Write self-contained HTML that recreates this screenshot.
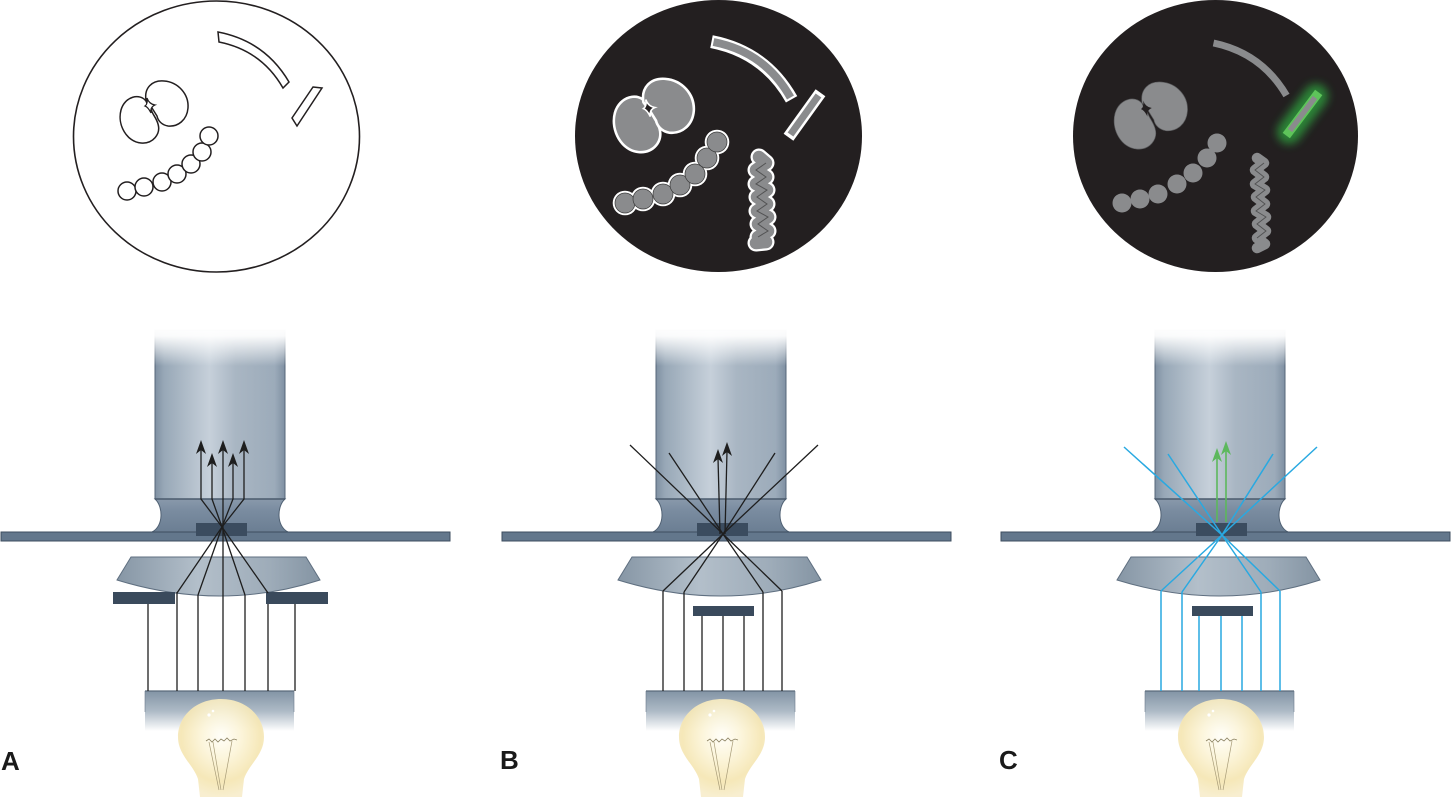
<!DOCTYPE html>
<html>
<head>
<meta charset="utf-8">
<style>
  html,body{margin:0;padding:0;background:#fff;}
  svg{display:block;}
</style>
</head>
<body>
<svg width="1451" height="797" viewBox="0 0 1451 797" xmlns="http://www.w3.org/2000/svg">
<defs>
  <linearGradient id="tube" x1="0" x2="1" y1="0" y2="0">
    <stop offset="0" stop-color="#7f90a2"/>
    <stop offset="0.07" stop-color="#98a8b7"/>
    <stop offset="0.42" stop-color="#c6d0da"/>
    <stop offset="0.62" stop-color="#a9b6c3"/>
    <stop offset="0.92" stop-color="#9cabba"/>
    <stop offset="1" stop-color="#7f90a2"/>
  </linearGradient>
  <linearGradient id="fade" x1="0" x2="0" y1="0" y2="1">
    <stop offset="0" stop-color="#fff" stop-opacity="1"/>
    <stop offset="0.25" stop-color="#fff" stop-opacity="0.95"/>
    <stop offset="1" stop-color="#fff" stop-opacity="0"/>
  </linearGradient>
  <linearGradient id="neck" x1="0" x2="0" y1="0" y2="1">
    <stop offset="0" stop-color="#8999ab"/>
    <stop offset="0.35" stop-color="#7a8ca0"/>
    <stop offset="1" stop-color="#6b7e93"/>
  </linearGradient>
  <linearGradient id="cond" x1="0" x2="1" y1="0" y2="0">
    <stop offset="0" stop-color="#8696a5"/>
    <stop offset="0.4" stop-color="#b3bfca"/>
    <stop offset="0.75" stop-color="#9eacb9"/>
    <stop offset="1" stop-color="#8494a3"/>
  </linearGradient>
  <linearGradient id="box" x1="0" x2="0" y1="0" y2="1">
    <stop offset="0" stop-color="#8394a5"/>
    <stop offset="0.5" stop-color="#adbac6"/>
    <stop offset="1" stop-color="#ffffff"/>
  </linearGradient>
  <radialGradient id="bulb" cx="0.5" cy="0.38" r="0.62">
    <stop offset="0" stop-color="#fffef8"/>
    <stop offset="0.35" stop-color="#fcf5da"/>
    <stop offset="0.75" stop-color="#f5e6b3"/>
    <stop offset="1" stop-color="#f7edcc"/>
  </radialGradient>
  <filter id="glow" x="-80%" y="-80%" width="260%" height="260%">
    <feGaussianBlur stdDeviation="4.5"/>
  </filter>

  <g id="kidneys">
    <path d="M146,101 C140,93 125,96 121,110 C117,125 127,142 141,143 C153,144 161,134 158,124 C156,117 152,114 151,109 L148,106 Z"/>
    <path d="M146,100 C144,88 152,80 164,81 C178,82 189,94 188,108 C187,120 178,127 168,126 C162,125 158,121 157,116 L152,108 Z"/>
  </g>
  <path id="notch" d="M147,98 Q149,104 155,105 Q150,107 151,113 Q148,107 145,106 Q148,104 147,98 Z"/>

  <g id="scope">
    <rect x="155" y="330" width="130" height="169" fill="url(#tube)" stroke="#56677a" stroke-width="1"/>
    <rect x="148" y="326" width="144" height="40" fill="url(#fade)"/>
    <path d="M155,499 L285,499 C277,506 276,526 288,532 L152,532 C164,526 163,506 155,499 Z" fill="url(#neck)" stroke="#4f6073" stroke-width="1"/>
    <line x1="155" y1="499" x2="285" y2="499" stroke="#4a5a6c" stroke-width="1.5"/>
    <rect x="1" y="532" width="449" height="9" fill="#63778c" stroke="#3e4e5f" stroke-width="1"/>
    <rect x="196" y="523" width="51" height="13" fill="#3b4c5f"/>
    <path d="M131,557 L306,557 L320,580 Q221,612 117,580 Z" fill="url(#cond)" stroke="#5f6f80" stroke-width="1"/>
    <rect x="145" y="691" width="149" height="40" fill="url(#box)"/>
    <line x1="145" y1="691" x2="294" y2="691" stroke="#5a6a7b" stroke-width="1.2"/>
    <line x1="145" y1="691" x2="145" y2="712" stroke="#6a7a8a" stroke-width="1" opacity="0.6"/>
    <line x1="294" y1="691" x2="294" y2="712" stroke="#6a7a8a" stroke-width="1" opacity="0.6"/>
    <path d="M221,699 C246,699 264,716 264,737 C264,755 249,764 244,779 L242,797 L200,797 L198,779 C193,764 178,755 178,737 C178,716 196,699 221,699 Z" fill="url(#bulb)" opacity="0.93"/>
    <polyline points="206,741 209,739 212,742 215,739 218,742 221,739 224,741 227,738 230,741 234,739 237,740" fill="none" stroke="#8a8060" stroke-width="0.8"/>
    <line x1="209" y1="742" x2="219" y2="790" stroke="#a89c78" stroke-width="0.7"/>
    <line x1="213" y1="742" x2="221" y2="790" stroke="#a89c78" stroke-width="0.7"/>
    <line x1="232" y1="741" x2="223" y2="790" stroke="#a89c78" stroke-width="0.7"/>
    <circle cx="209" cy="715" r="1.6" fill="#fff"/>
    <circle cx="213" cy="711" r="1.3" fill="#fff"/>
  </g>
</defs>

<!-- ================= TOP CIRCLES ================= -->
<!-- A -->
<ellipse cx="216.5" cy="136.5" rx="143" ry="135.5" fill="#fff" stroke="#231f20" stroke-width="1.6"/>
<use href="#kidneys" fill="#fff" stroke="#231f20" stroke-width="1.5"/>
<use href="#notch" fill="#fff" stroke="#231f20" stroke-width="1.2"/>
<g fill="#fff" stroke="#231f20" stroke-width="1.5">
  <circle cx="127" cy="191" r="9"/>
  <circle cx="144" cy="187" r="9"/>
  <circle cx="162" cy="182" r="9"/>
  <circle cx="177" cy="174" r="9"/>
  <circle cx="191" cy="164" r="9"/>
  <circle cx="202" cy="152" r="9"/>
  <circle cx="209" cy="136" r="9"/>
  <path d="M218,32 Q265,41 289,82 L283,88 Q261.5,50.5 219,42 Z"/>
  <polygon points="313,87 322,88 297,126 292,118"/>
</g>

<!-- B -->
<ellipse cx="718.5" cy="136" rx="143.5" ry="136" fill="#231f20"/>
<use href="#kidneys" transform="translate(615,79) scale(1.14) translate(-120,-80)" fill="#8a8b8d" stroke="#ffffff" stroke-width="4.5" paint-order="stroke"/>
<use href="#notch" transform="translate(615,79) scale(1.14) translate(-120,-80)" fill="#231f20" stroke="#ffffff" stroke-width="1.4"/>
<g fill="#ffffff">
  <circle cx="625" cy="203" r="12.3"/>
  <circle cx="643" cy="199" r="12.3"/>
  <circle cx="663" cy="194" r="12.3"/>
  <circle cx="680" cy="185" r="12.3"/>
  <circle cx="695" cy="174" r="12.3"/>
  <circle cx="707" cy="158" r="12.3"/>
  <circle cx="717" cy="142" r="12.3"/>
</g>
<g fill="#8a8b8d" stroke="#3a3a3a" stroke-width="0.7">
  <circle cx="625" cy="203" r="10"/>
  <circle cx="643" cy="199" r="10"/>
  <circle cx="663" cy="194" r="10"/>
  <circle cx="680" cy="185" r="10"/>
  <circle cx="695" cy="174" r="10"/>
  <circle cx="707" cy="158" r="10"/>
  <circle cx="717" cy="142" r="10"/>
</g>
<path d="M711.5,41.6 Q765,52 791.6,99.3" fill="none" stroke="#fff" stroke-width="13"/>
<path d="M713.5,42 Q765,52 790.5,97.5" fill="none" stroke="#8a8b8d" stroke-width="8"/>
<line x1="820.5" y1="92.8" x2="788.5" y2="137.2" stroke="#fff" stroke-width="12"/>
<line x1="818.5" y1="95.5" x2="790.5" y2="134.5" stroke="#8a8b8d" stroke-width="7"/>
<!-- spirochete B -->
<polyline points="759,157 766,163 756,170 766,177 756,184 767,190 757,197 767,204 757,211 768,217 758,224 768,231 758,237 766,242 756,243" fill="none" stroke="#fff" stroke-width="17" stroke-linejoin="round" stroke-linecap="round"/>
<polyline points="759,157 766,163 756,170 766,177 756,184 767,190 757,197 767,204 757,211 768,217 758,224 768,231 758,237 766,242 756,243" fill="none" stroke="#8a8b8d" stroke-width="12.5" stroke-linejoin="round" stroke-linecap="round"/>
<polyline points="766,163 756,170 766,177 756,184 767,190 757,197 767,204 757,211 768,217 758,224 768,231 758,237" fill="none" stroke="#3a3a3a" stroke-width="1" opacity="0.7"/>

<!-- C -->
<ellipse cx="1215.5" cy="136" rx="142.5" ry="136" fill="#231f20"/>
<use href="#kidneys" transform="translate(1114,81) scale(1.08) translate(-120,-80)" fill="#8a8b8d" stroke="#5d5e60" stroke-width="0.6"/>
<use href="#notch" transform="translate(1114,81) scale(1.08) translate(-120,-80)" fill="#231f20"/>
<g fill="#8a8b8d">
  <circle cx="1122" cy="203" r="9.5"/>
  <circle cx="1140" cy="199" r="9.5"/>
  <circle cx="1158" cy="194" r="9.5"/>
  <circle cx="1177" cy="184" r="9.5"/>
  <circle cx="1193" cy="173" r="9.5"/>
  <circle cx="1207" cy="158" r="9.5"/>
  <circle cx="1217" cy="143" r="9.5"/>
</g>
<path d="M1213.5,43 Q1261.6,53 1286.5,95.5" fill="none" stroke="#8a8b8d" stroke-width="7"/>
<line x1="1316" y1="96" x2="1289" y2="132" stroke="#2f9e3e" stroke-width="24" stroke-linecap="round" filter="url(#glow)" opacity="0.8"/>
<line x1="1316" y1="96" x2="1289" y2="132" stroke="#5ec45a" stroke-width="9" stroke-linecap="square"/>
<line x1="1315" y1="97.5" x2="1290" y2="130.5" stroke="#8a8b8d" stroke-width="5.5"/>
<!-- spirochete C -->
<polyline points="1257,158 1264,163 1255,170 1264,177 1255,184 1265,190 1256,197 1265,204 1256,211 1266,217 1257,224 1266,231 1257,238 1265,244 1257,248" fill="none" stroke="#8a8b8d" stroke-width="10.5" stroke-linejoin="round" stroke-linecap="round"/>
<polyline points="1264,163 1255,170 1264,177 1255,184 1265,190 1256,197 1265,204 1256,211 1266,217 1257,224 1266,231 1257,238" fill="none" stroke="#2a2a2a" stroke-width="0.9" opacity="0.6"/>

<!-- ================= MICROSCOPES ================= -->
<use href="#scope"/>
<use href="#scope" transform="translate(501,0)"/>
<use href="#scope" transform="translate(1000,0)"/>

<!-- A: annular plates + rays -->
<rect x="113" y="592" width="62" height="12" fill="#3a4a5c"/>
<rect x="266" y="592" width="62" height="12" fill="#3a4a5c"/>
<g fill="none" stroke="#1e1e1e" stroke-width="1.3">
  <line x1="148" y1="604" x2="148" y2="691"/>
  <line x1="295" y1="604" x2="295" y2="691"/>
  <line x1="177" y1="592" x2="177" y2="691"/>
  <line x1="198" y1="595" x2="198" y2="691"/>
  <line x1="223" y1="596" x2="223" y2="691"/>
  <line x1="245" y1="595" x2="245" y2="691"/>
  <line x1="268" y1="604" x2="268" y2="691"/>
  <polyline points="177,593 222,527 244,499 244,449"/>
  <polyline points="198,595 222,527 233,499 233,462"/>
  <polyline points="223,596 223,449"/>
  <polyline points="245,595 222,527 212,499 212,462"/>
  <polyline points="268,593 222,527 201,499 201,449"/>
</g>
<g fill="#1e1e1e">
  <polygon points="201,440 196,454 201,450 206,454"/>
  <polygon points="212,453 207,467 212,463 217,467"/>
  <polygon points="223,440 218,454 223,450 228,454"/>
  <polygon points="233,453 228,467 233,463 238,467"/>
  <polygon points="244,440 239,454 244,450 249,454"/>
</g>

<!-- B: central stop + rays -->
<rect x="693" y="606" width="61" height="10" fill="#3a4a5c"/>
<g fill="none" stroke="#1e1e1e" stroke-width="1.3">
  <line x1="663" y1="591" x2="663" y2="691"/>
  <line x1="684" y1="592" x2="684" y2="691"/>
  <line x1="763" y1="592" x2="763" y2="691"/>
  <line x1="782" y1="591" x2="782" y2="691"/>
  <line x1="702" y1="616" x2="702" y2="691"/>
  <line x1="723" y1="616" x2="723" y2="691"/>
  <line x1="744" y1="616" x2="744" y2="691"/>
  <polyline points="663,591 723,534 818,445"/>
  <polyline points="684,592 723,534 775,453"/>
  <polyline points="763,592 723,534 669,453"/>
  <polyline points="782,591 723,534 630,445"/>
  <line x1="720" y1="534" x2="718" y2="458"/>
  <line x1="725" y1="534" x2="727" y2="451"/>
</g>
<g fill="#1e1e1e">
  <polygon points="718,449 713,463 718,459 723,463"/>
  <polygon points="727,442 722,456 727,452 732,456"/>
</g>

<!-- C: central stop + blue rays + green arrows -->
<rect x="1192" y="606" width="61" height="10" fill="#3a4a5c"/>
<g fill="none" stroke="#29a9e1" stroke-width="1.5">
  <line x1="1161" y1="591" x2="1161" y2="691"/>
  <line x1="1182" y1="592" x2="1182" y2="691"/>
  <line x1="1261" y1="592" x2="1261" y2="691"/>
  <line x1="1280" y1="591" x2="1280" y2="691"/>
  <line x1="1199" y1="616" x2="1199" y2="691"/>
  <line x1="1221" y1="616" x2="1221" y2="691"/>
  <line x1="1242" y1="616" x2="1242" y2="691"/>
  <polyline points="1161,591 1222,535 1317,447"/>
  <polyline points="1182,592 1222,535 1273,454"/>
  <polyline points="1261,592 1222,535 1168,454"/>
  <polyline points="1280,591 1222,535 1124,447"/>
</g>
<g stroke="#5cb85c" stroke-width="1.6" fill="none">
  <line x1="1217" y1="522" x2="1217" y2="458"/>
  <line x1="1226" y1="522" x2="1226" y2="451"/>
</g>
<g fill="#5cb85c">
  <polygon points="1217,448 1212,462 1217,458 1222,462"/>
  <polygon points="1226,441 1221,455 1226,451 1231,455"/>
</g>

<!-- labels -->
<g font-family="'Liberation Sans', Arial, sans-serif" font-weight="bold" font-size="26" fill="#1a1a1a">
  <text x="1" y="770">A</text>
  <text x="500" y="769">B</text>
  <text x="999" y="769">C</text>
</g>
</svg>
</body>
</html>
